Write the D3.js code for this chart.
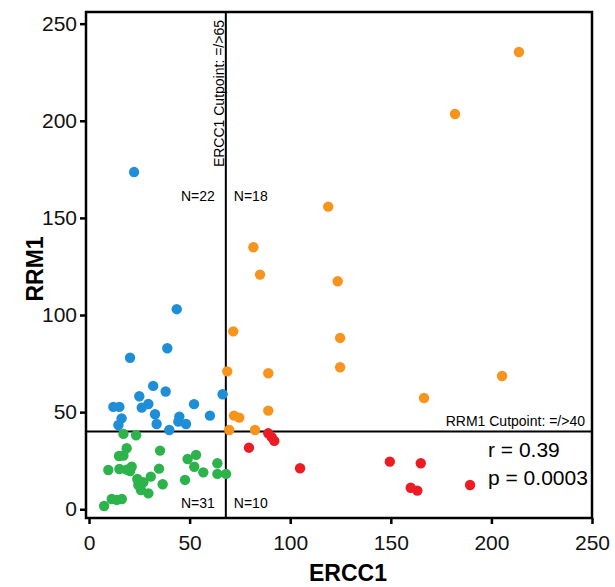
<!DOCTYPE html>
<html>
<head>
<meta charset="utf-8">
<script src="https://cdn.jsdelivr.net/npm/d3@7"></script>
<style>
  body { margin: 0; background: #fff; }
  svg { font-family: Arial, "Liberation Sans", sans-serif; }
</style>
</head>
<body>
<div id="chart"></div>
<script>
// DATA ----------------------------------------------------------------------
// each point is [ERCC1, RRM1]
const lowErccHighRrm = [
  [22.4, 173.6], [43.6, 103.0], [38.9, 82.9], [20.4, 78.0], [31.9, 63.5],
  [38.1, 60.6], [25.0, 58.2], [12.1, 52.7], [15.1, 52.7], [26.2, 52.3],
  [29.5, 54.2], [32.8, 48.9], [16.2, 46.8], [14.6, 43.4], [33.6, 43.9],
  [39.9, 40.8], [44.9, 47.7], [44.4, 45.1], [48.2, 43.9], [52.2, 54.1],
  [60.1, 48.2], [66.4, 59.2]
];
const lowErccLowRrm = [
  [17.1, 38.8], [23.4, 38.1], [35.3, 30.2], [18.7, 31.4], [17.1, 27.6],
  [14.9, 27.4], [49.0, 25.9], [53.2, 28.0], [63.8, 23.7], [9.6, 20.2],
  [15.1, 20.7], [18.7, 20.4], [21.2, 21.9], [20.4, 19.7], [34.8, 20.9],
  [52.3, 21.9], [56.8, 19.0], [63.8, 18.2], [68.1, 18.2], [24.0, 15.6],
  [30.7, 16.8], [27.0, 13.9], [24.5, 12.5], [25.8, 9.9], [29.5, 8.2],
  [36.6, 12.9], [47.7, 15.1], [11.3, 5.3], [13.8, 4.8], [16.3, 5.3],
  [7.5, 1.7]
];
const highErccHighRrm = [
  [213.7, 235.4], [181.9, 203.5], [118.9, 155.8], [81.7, 134.9], [85.0, 120.8],
  [123.6, 117.4], [71.7, 91.6], [124.8, 88.2], [124.8, 73.1], [68.7, 71.0],
  [89.1, 70.0], [205.3, 68.6], [166.5, 57.3], [89.1, 50.8], [72.1, 48.2],
  [74.7, 47.2], [69.7, 40.8], [82.5, 40.8]
];
const highErccLowRrm = [
  [89.1, 39.1], [90.8, 37.1], [92.1, 35.2], [79.5, 31.7], [104.9, 21.1],
  [149.5, 24.5], [164.9, 23.7], [159.9, 11.1], [163.2, 9.6], [189.4, 12.5]
];

const groupColors = ['#1e8fd6', '#2db34b', '#f7941e', '#ec1c24'];
const xTicks = [0, 50, 100, 150, 200, 250];
const yTicks = [0, 50, 100, 150, 200, 250];
const erccCut = 68;
const rrmCut = 40;
const quadrantLabels = ['N=22', 'N=18', 'N=31', 'N=10'];
const statLines = ['r = 0.39', 'p = 0.0003'];

// CHART ---------------------------------------------------------------------
const W = 615, H = 587;
const margin = {top: 12, right: 23, bottom: 69, left: 86};
const width = W - margin.left - margin.right;
const height = H - margin.top - margin.bottom;

const svg = d3.select('#chart').append('svg')
  .attr('width', W)
  .attr('height', H)
  .append('g')
  .attr('transform', 'translate(' + margin.left + ',' + margin.top + ')');

const xScale = d3.scaleLinear().domain([-1.5, 250]).range([0, width]);
const yScale = d3.scaleLinear().domain([-4.5, 256]).range([height, 0]);

// axes
const xAxis = d3.axisBottom(xScale).tickValues(xTicks).tickSize(6).tickPadding(11);
const yAxis = d3.axisLeft(yScale).tickValues(yTicks).tickSize(6).tickPadding(3);

const gx = svg.append('g')
  .attr('transform', 'translate(0,' + height + ')')
  .call(xAxis);
const gy = svg.append('g').call(yAxis);

[gx, gy].forEach(g => {
  g.select('.domain').remove();
  g.selectAll('line').attr('stroke', '#000').attr('stroke-width', 2.5);
  g.selectAll('text').attr('font-size', 21).attr('fill', '#111')
    .attr('font-family', 'Arial, "Liberation Sans", sans-serif');
});

// cutpoint lines
svg.append('line')
  .attr('x1', xScale(erccCut)).attr('x2', xScale(erccCut))
  .attr('y1', 0).attr('y2', height)
  .attr('stroke', '#000').attr('stroke-width', 2);
svg.append('line')
  .attr('x1', 0).attr('x2', width)
  .attr('y1', yScale(rrmCut)).attr('y2', yScale(rrmCut))
  .attr('stroke', '#000').attr('stroke-width', 2);

// points
const groups = [lowErccHighRrm, lowErccLowRrm, highErccHighRrm, highErccLowRrm];
groups.forEach((pts, i) => {
  svg.append('g').selectAll('circle')
    .data(pts)
    .join('circle')
    .attr('cx', d => xScale(d[0]))
    .attr('cy', d => yScale(d[1]))
    .attr('r', 5.2)
    .attr('fill', groupColors[i]);
});

// frame
svg.append('rect')
  .attr('width', width).attr('height', height)
  .attr('fill', 'none').attr('stroke', '#000').attr('stroke-width', 2.5);

// cutpoint labels
svg.append('text')
  .attr('transform', 'translate(' + (xScale(erccCut) - 2) + ',' + 8 + ') rotate(-90)')
  .attr('text-anchor', 'end')
  .attr('font-size', 14)
  .text('ERCC1 Cutpoint: =/>65');

svg.append('text')
  .attr('x', width - 7)
  .attr('y', yScale(rrmCut) - 6)
  .attr('text-anchor', 'end')
  .attr('font-size', 14)
  .text('RRM1 Cutpoint: =/>40');

// quadrant counts
const nTop = 189, nBottom = 496;
[[quadrantLabels[0], -11, nTop, 'end'], [quadrantLabels[1], 8, nTop, 'start'],
 [quadrantLabels[2], -11, nBottom, 'end'], [quadrantLabels[3], 8, nBottom, 'start']]
  .forEach(([t, dx, y, anchor]) => {
    svg.append('text')
      .attr('x', xScale(erccCut) + dx)
      .attr('y', y)
      .attr('text-anchor', anchor)
      .attr('font-size', 14)
      .text(t);
  });

// stats
svg.selectAll('.stat')
  .data(statLines)
  .join('text')
  .attr('class', 'stat')
  .attr('x', 402)
  .attr('y', (d, i) => 445 + i * 28)
  .attr('font-size', 21)
  .text(d => d);

// axis titles
svg.append('text')
  .attr('x', 262)
  .attr('y', height + 63)
  .attr('text-anchor', 'middle')
  .attr('font-size', 23)
  .attr('font-weight', 'bold')
  .text('ERCC1');

svg.append('text')
  .attr('transform', 'translate(' + (-43) + ',' + (height / 2 + 4) + ') rotate(-90)')
  .attr('text-anchor', 'middle')
  .attr('font-size', 23)
  .attr('font-weight', 'bold')
  .text('RRM1');
</script>
</body>
</html>
